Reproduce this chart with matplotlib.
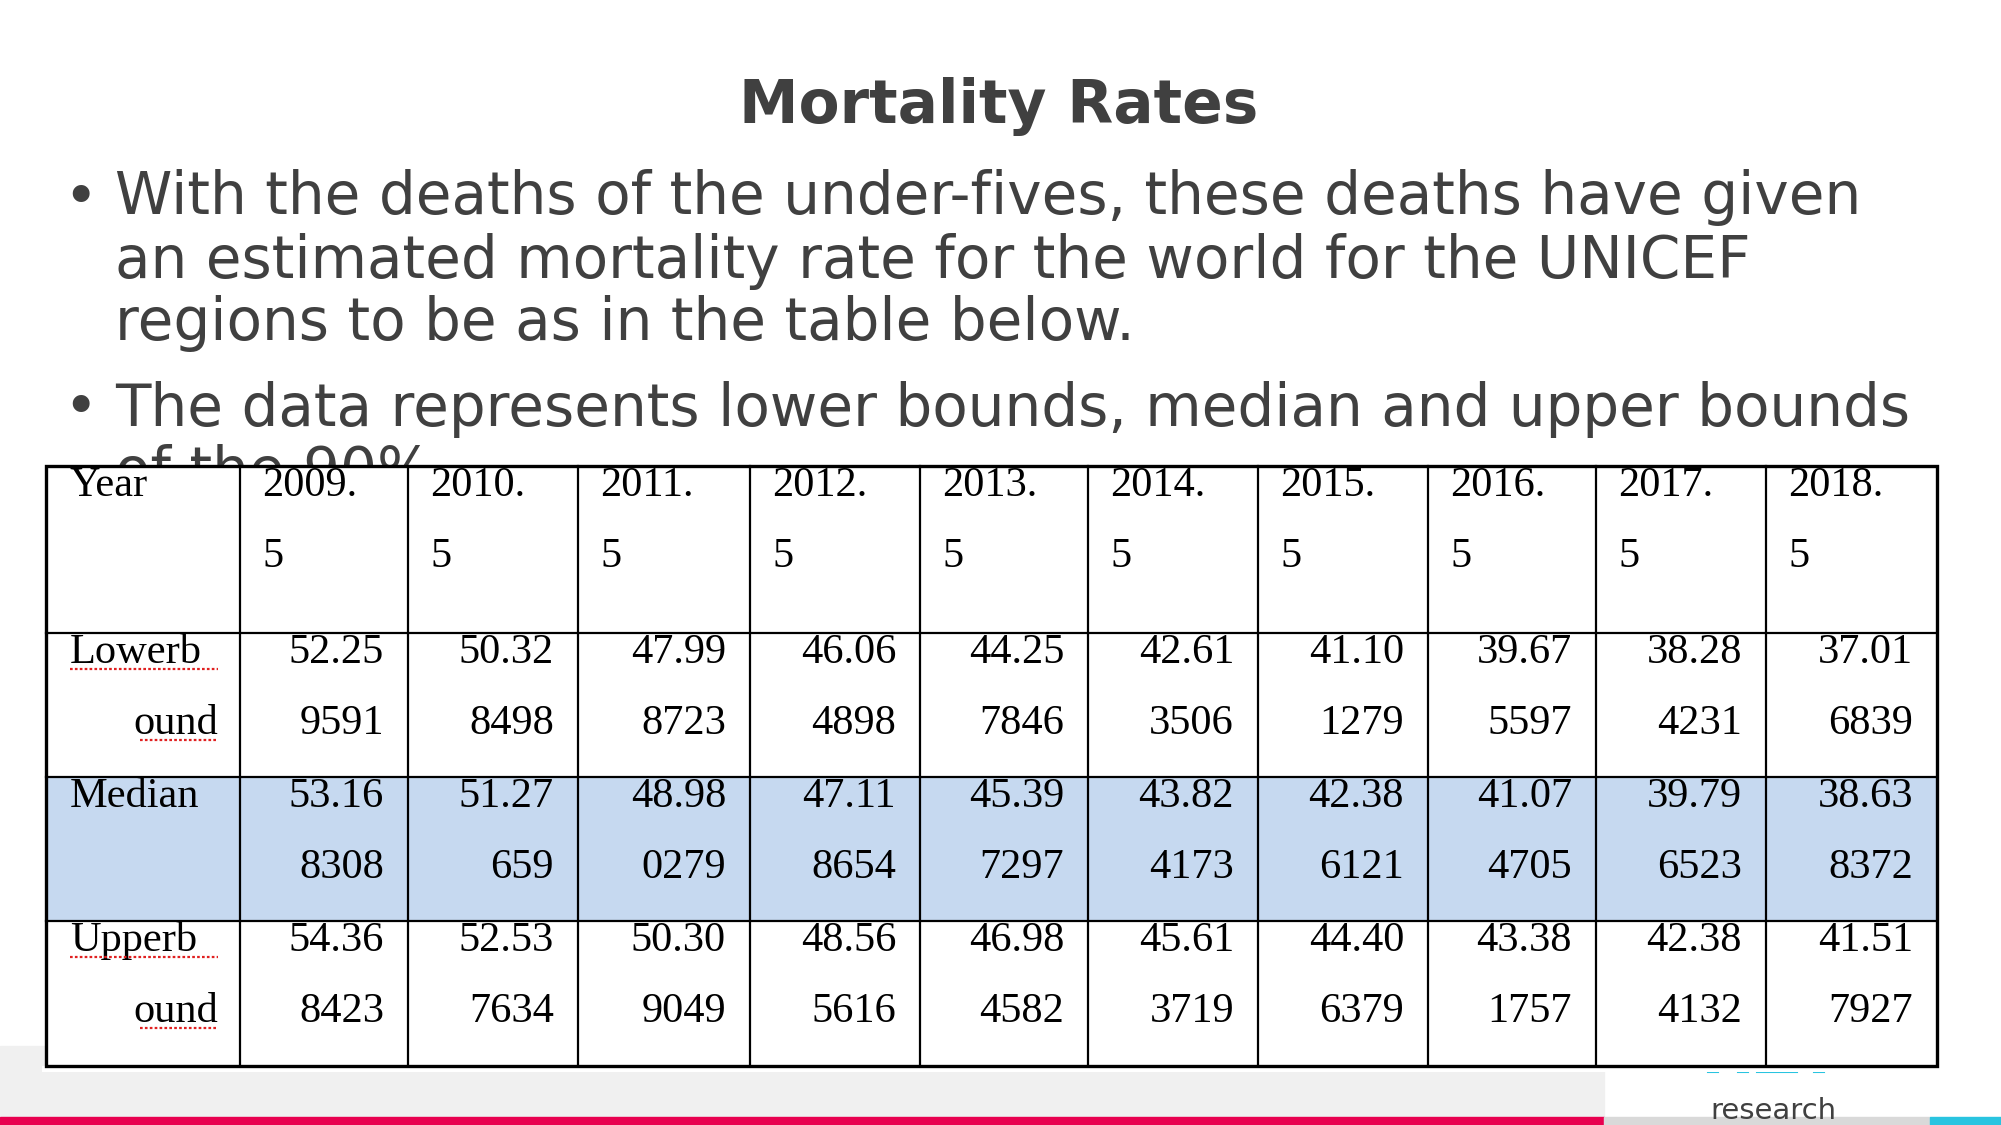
import matplotlib.pyplot as plt
from matplotlib.patches import Rectangle

# slide text
title = "Mortality Rates"
bullet_1 = ["With the deaths of the under-fives, these deaths have given",
            "an estimated mortality rate for the world for the UNICEF",
            "regions to be as in the table below."]
bullet_2 = ["The data represents lower bounds, median and upper bounds",
            "of the 90%"]

# table data (values wrap after 5 characters in the cells)
years = ["2009.5", "2010.5", "2011.5", "2012.5", "2013.5",
         "2014.5", "2015.5", "2016.5", "2017.5", "2018.5"]
row_names = [("Lowerb", "ound"), ("Median", ""), ("Upperb", "ound")]
lower_bound = ["52.259591", "50.328498", "47.998723", "46.064898", "44.257846",
               "42.613506", "41.101279", "39.675597", "38.284231", "37.016839"]
median = ["53.168308", "51.27659", "48.980279", "47.118654", "45.397297",
          "43.824173", "42.386121", "41.074705", "39.796523", "38.638372"]
upper_bound = ["54.368423", "52.537634", "50.309049", "48.565616", "46.984582",
               "45.613719", "44.406379", "43.381757", "42.384132", "41.517927"]

# layout (pixels on the 2001x1125 slide)
col_edges = [46, 240, 408, 578, 750, 920, 1088, 1258, 1428, 1596, 1766, 1937]
row_edges = [466, 633, 777, 921, 1066]
text_col = "#404040"
serif = "Liberation Serif"

fig = plt.figure(figsize=(20.01, 11.25), dpi=100)
ax = fig.add_axes([0, 0, 1, 1])
ax.set_xlim(0, 2001)
ax.set_ylim(1125, 0)
ax.axis("off")

# footer decoration
ax.add_patch(Rectangle((0, 1046), 1604, 72, color="#f0f0f0", zorder=0))
ax.add_patch(Rectangle((0, 1117), 1604, 8, color="#e8004f", zorder=1))
ax.add_patch(Rectangle((1604, 1117), 326, 8, color="#d9d9d9", zorder=1))
ax.add_patch(Rectangle((1930, 1117), 71, 8, color="#29c4e0", zorder=1))
for x0, x1 in [(1708, 1718), (1738, 1748), (1757, 1797), (1814, 1824)]:
    ax.plot([x0, x1], [1072, 1072], color="#29c4e0", lw=1.5, zorder=1)
ax.text(1773, 1119, "research", ha="center", va="baseline", fontsize=21,
        color=text_col, family="DejaVu Sans", zorder=2)

# title and bullets
ax.text(999, 107, title, ha="center", va="center", fontsize=43,
        fontweight="bold", color=text_col, family="DejaVu Sans")
body_fs = 41.8
line_y = [198, 261, 323]
for y, line in zip(line_y, bullet_1):
    ax.text(115, y, line, ha="left", va="center", fontsize=body_fs,
            color=text_col, family="DejaVu Sans")
ax.text(80, line_y[0], "•", ha="center", va="center", fontsize=body_fs, color=text_col)
for y, line in zip([409, 472], bullet_2):
    ax.text(115, y, line, ha="left", va="center", fontsize=body_fs,
            color=text_col, family="DejaVu Sans", zorder=1)
ax.text(80, 409, "•", ha="center", va="center", fontsize=body_fs, color=text_col)

# table
ax.add_patch(Rectangle((col_edges[0], row_edges[0]), col_edges[-1] - col_edges[0],
                       row_edges[-1] - row_edges[0], facecolor="white",
                       edgecolor="none", zorder=3))
ax.add_patch(Rectangle((col_edges[0] - 4, row_edges[-1]), col_edges[-1] - col_edges[0] + 4,
                       6, facecolor="white", edgecolor="none", zorder=3))
ax.add_patch(Rectangle((col_edges[0], row_edges[2]), col_edges[-1] - col_edges[0],
                       row_edges[3] - row_edges[2], facecolor="#c6d9f0",
                       edgecolor="none", zorder=3))

for x in col_edges[1:-1]:
    ax.plot([x, x], [row_edges[0], row_edges[-1]], color="black", lw=1.6, zorder=5)
for y in row_edges[1:-1]:
    ax.plot([col_edges[0], col_edges[-1]], [y, y], color="black", lw=1.6, zorder=5)
ax.add_patch(Rectangle((col_edges[0], row_edges[0]), col_edges[-1] - col_edges[0],
                       row_edges[-1] - row_edges[0], facecolor="none",
                       edgecolor="black", lw=2.4, zorder=5))

fs = 30.5
off1, off2 = 20, 91

# header row
top = row_edges[0]
ax.text(col_edges[0] + 24, top + off1, "Year", ha="left", va="center",
        fontsize=fs, family=serif, zorder=6)
for j, yr in enumerate(years):
    x = col_edges[j + 1] + 22
    ax.text(x, top + off1, yr[:5], ha="left", va="center", fontsize=fs,
            family=serif, zorder=6)
    ax.text(x, top + off2, yr[5:], ha="left", va="center", fontsize=fs,
            family=serif, zorder=6)

# data rows
for i, (values, names) in enumerate(zip([lower_bound, median, upper_bound], row_names)):
    top = row_edges[i + 1]
    ax.text(col_edges[0] + 24, top + off1, names[0], ha="left", va="center",
            fontsize=fs, family=serif, zorder=6)
    if names[1]:
        ax.text(col_edges[1] - 22, top + off2, names[1], ha="right", va="center",
                fontsize=fs, family=serif, zorder=6)
        # spell-check underline
        ax.plot([col_edges[0] + 24, col_edges[1] - 22], [top + 36, top + 36],
                color="#e02020", lw=1.6, ls=(0, (1.2, 1.0)), zorder=6)
        ax.plot([col_edges[1] - 100, col_edges[1] - 22], [top + 107, top + 107],
                color="#e02020", lw=1.6, ls=(0, (1.2, 1.0)), zorder=6)
    for j, v in enumerate(values):
        x = col_edges[j + 2] - 24
        ax.text(x, top + off1, v[:5], ha="right", va="center", fontsize=fs,
                family=serif, zorder=6)
        ax.text(x, top + off2, v[5:], ha="right", va="center", fontsize=fs,
                family=serif, zorder=6)

fig.savefig("out.png", dpi=100)
